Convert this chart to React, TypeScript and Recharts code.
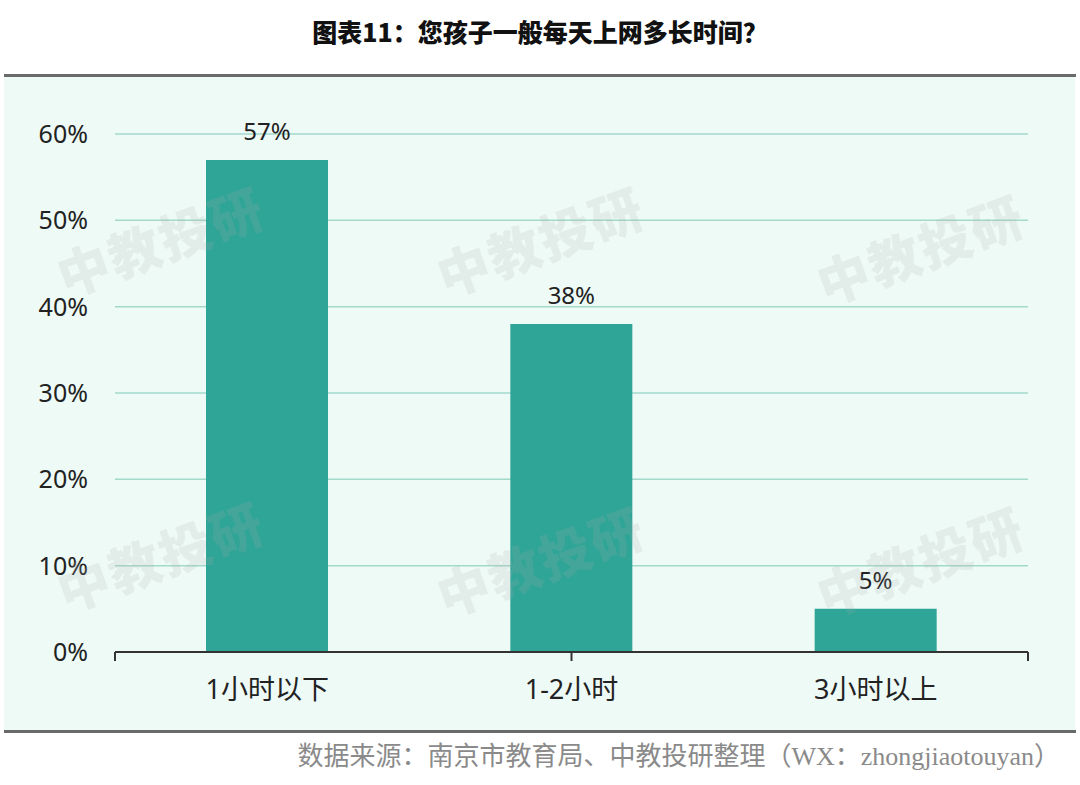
import React from 'react';
import { BarChart, Bar, XAxis, YAxis, CartesianGrid, LabelList } from 'recharts';

const categories = ['1小时以下', '1-2小时', '3小时以上'];
const values = [57, 38, 5];
const yTicks = [0, 10, 20, 30, 40, 50, 60];
const boundaryTicks = [0, 1, 2, 3];
const title = '图表11：您孩子一般每天上网多长时间？';
const source = '数据来源：南京市教育局、中教投研整理（WX：zhongjiaotouyan）';
const watermark = '中教投研';
const watermarkCenters = [
  [160, 240], [540, 240], [920, 248],
  [160, 555], [540, 560], [920, 560],
];

const data = categories.map((c, i) => ({ name: c, value: values[i] }));

const font = '"Noto Sans", "Noto Sans CJK SC", sans-serif';

export default function App() {
  return (
    <div style={{ position: 'absolute', left: 0, top: 0, width: 1080, height: 785, background: '#fff', overflow: 'hidden' }}>
      <div style={{ position: 'absolute', left: 0, top: 15, width: 1080, textAlign: 'center', fontFamily: '"Noto Sans CJK SC", sans-serif', fontWeight: 900, fontSize: 25, color: '#111', lineHeight: '32px' }}>{title}</div>
      <div style={{ position: 'absolute', left: 4, top: 74, width: 1072, height: 3, background: '#6a6a6a' }} />
      <div style={{ position: 'absolute', left: 4, top: 77, width: 1071, height: 653, background: '#eefaf6' }} />
      <div style={{ position: 'absolute', left: 4, top: 730, width: 1072, height: 3, background: '#6a6a6a' }} />
      <div style={{ position: 'absolute', left: 0, top: 0 }}>
        <BarChart width={1080} height={785} data={data} margin={{ top: 134, right: 52, bottom: 103, left: 55 }}>
          <CartesianGrid horizontal vertical={false} stroke="#a3d9cb" strokeWidth={1.5} />
          <XAxis xAxisId="a" type="number" domain={[0, 3]} ticks={boundaryTicks} allowDataOverflow height={1} mirror
            tick={() => <g />} tickLine={{ stroke: '#333', strokeWidth: 2 }} tickSize={-9} axisLine={{ stroke: '#333', strokeWidth: 2 }} />
          <XAxis xAxisId="b" dataKey="name" height={30} axisLine={false} tickLine={false} tickSize={8} tickMargin={20}
            tick={{ fill: '#222', fontSize: 27, fontFamily: font }} />
          <YAxis width={60} domain={[0, 60]} ticks={yTicks} tickFormatter={(v) => `${v}%`} axisLine={false} tickLine={false}
            tickSize={0} tickMargin={27} tick={{ fill: '#222', fontSize: 25, fontFamily: font }} />
          <Bar xAxisId="b" dataKey="value" fill="#2ea597" barSize={122} isAnimationActive={false}>
            <LabelList dataKey="value" position="top" offset={20} formatter={(v) => `${v}%`} fill="#222" fontSize={24} fontFamily={font} />
          </Bar>
        </BarChart>
      </div>
      {watermarkCenters.map(([x, y], i) => (
        <div key={i} style={{ position: 'absolute', left: x - 130, top: y - 30, width: 260, height: 60, textAlign: 'center', lineHeight: '60px', fontFamily: '"Noto Sans CJK SC", sans-serif', fontWeight: 900, fontSize: 52, color: 'rgba(170,170,170,0.18)', transform: 'rotate(-20deg)', pointerEvents: 'none', letterSpacing: 2 }}>{watermark}</div>
      ))}
      <div style={{ position: 'absolute', right: 20, top: 741, fontFamily: '"Liberation Serif", "Noto Sans CJK SC", serif', fontSize: 26, color: '#8a8a8a', lineHeight: '32px', whiteSpace: 'nowrap' }}>{source}</div>
    </div>
  );
}
